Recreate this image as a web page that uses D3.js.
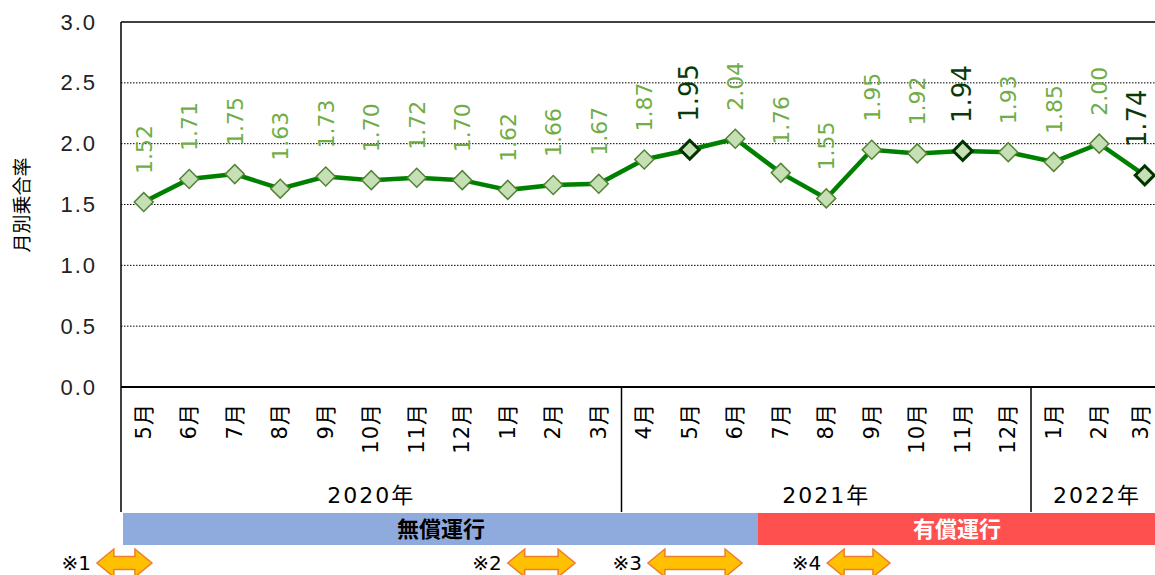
<!DOCTYPE html>
<html>
<head>
<meta charset="utf-8">
<script src="https://cdn.jsdelivr.net/npm/d3@7"></script>
<style>
  body { margin: 0; background: #fff; }
  svg { display: block; font-family: "DejaVu Sans", "Noto Sans CJK JP", sans-serif; }
</style>
</head>
<body>
<div id="chart"></div>
<script>
// 月ラベル・年・値
const months = ["5月","6月","7月","8月","9月","10月","11月","12月","1月","2月","3月",
                "4月","5月","6月","7月","8月","9月","10月","11月","12月",
                "1月","2月","3月"];
const rates = [1.52,1.71,1.75,1.63,1.73,1.70,1.72,1.70,1.62,1.66,1.67,
               1.87,1.95,2.04,1.76,1.55,1.95,1.92,1.94,1.93,
               1.85,2.00,1.74];
const highlight = [12, 18, 22];
const years = [{label:"2020年", from:0, to:11}, {label:"2021年", from:11, to:20}, {label:"2022年", from:20, to:23}];
const yTicks = [0, 0.5, 1.0, 1.5, 2.0, 2.5, 3.0];
const phases = [{label:"無償運行", from:0, to:14, fill:"#8faadc", color:"#000"},
                {label:"有償運行", from:14, to:23, fill:"#ff5050", color:"#fff"}];
// 矢印の範囲（月の位置で）
const notes = [{label:"※1", x0:-1.03, x1:0.18}, {label:"※2", x0:8.0, x1:9.48}, {label:"※3", x0:11.08, x1:13.15}, {label:"※4", x0:15.02, x1:16.4}];

const W = 1155, H = 575;
const m = {left: 121, top: 22};
const bandW = 45.5;

const svg = d3.select("#chart").append("svg")
    .attr("width", W).attr("height", H);

const x = d3.scaleBand()
    .domain(d3.range(months.length))
    .range([m.left, m.left + bandW * months.length])
    .padding(0);
const xc = i => x(i) + x.bandwidth() / 2;
// 連続位置（月の中心＝整数）
const xi = d3.scaleLinear().domain([-0.5, months.length - 0.5]).range([m.left, m.left + bandW * months.length]);
const xEdge = i => xi(i - 0.5);

const y = d3.scaleLinear().domain([0, 3]).range([387, m.top]);

// グリッド
svg.append("g").selectAll("line")
    .data(yTicks.filter(d => d > 0 && d < 3))
    .enter().append("line")
    .attr("x1", m.left).attr("x2", W)
    .attr("y1", d => y(d)).attr("y2", d => y(d))
    .style("stroke", "#000").style("stroke-width", 1)
    .style("stroke-dasharray", "1.5,1.5");

svg.append("line")
    .attr("x1", m.left).attr("x2", W)
    .attr("y1", y(3)).attr("y2", y(3))
    .style("stroke", "#000").style("stroke-width", 1.5);

// Y軸
const yAxis = svg.append("g")
    .attr("transform", `translate(${m.left},0)`)
    .call(d3.axisLeft(y).tickValues(yTicks).tickSize(0).tickPadding(24).tickFormat(d3.format(".1f")));
yAxis.select(".domain").remove();
yAxis.selectAll("text")
    .style("font-size", "22px").style("letter-spacing", "2px").style("fill", "#222");

svg.append("line")
    .attr("x1", m.left).attr("x2", m.left)
    .attr("y1", y(3)).attr("y2", 512)
    .style("stroke", "#000").style("stroke-width", 1.5);

svg.append("line")
    .attr("x1", m.left).attr("x2", W)
    .attr("y1", y(0)).attr("y2", y(0))
    .style("stroke", "#000").style("stroke-width", 2);

svg.append("text")
    .attr("transform", `translate(29,${205}) rotate(-90)`)
    .attr("text-anchor", "middle")
    .style("font-size", "19px")
    .style("font-family", "'Noto Sans CJK JP', sans-serif")
    .text("月別乗合率");

// 月ラベル
svg.append("g").selectAll("text")
    .data(months)
    .enter().append("text")
    .attr("transform", (d, i) => `translate(${Math.min(xc(i) + 7, 1148)},403) rotate(-90)`)
    .attr("text-anchor", "end")
    .style("font-size", "21px")
    .style("letter-spacing", "1px")
    .text(d => d);

// 年区切り
svg.append("g").selectAll("line")
    .data(years.slice(1))
    .enter().append("line")
    .attr("x1", d => xEdge(d.from)).attr("x2", d => xEdge(d.from))
    .attr("y1", y(0)).attr("y2", 512)
    .style("stroke", "#000").style("stroke-width", 1.5);

svg.append("g").selectAll("text")
    .data(years)
    .enter().append("text")
    .attr("x", d => Math.min((xEdge(d.from) + xEdge(d.to)) / 2, 1097))
    .attr("y", 503)
    .attr("text-anchor", "middle")
    .style("font-size", "22px")
    .style("letter-spacing", "2px")
    .text(d => d.label);

// 運行区分
const ph = svg.append("g").selectAll("g").data(phases).enter().append("g");
const phX0 = d => d.from === 0 ? 123 : xEdge(d.from);
const phX1 = d => d.to === months.length ? W : xEdge(d.to);
ph.append("rect")
    .attr("x", phX0)
    .attr("y", 513)
    .attr("width", d => phX1(d) - phX0(d))
    .attr("height", 32)
    .style("fill", d => d.fill);
ph.append("text")
    .attr("x", (d, i) => i === 0 ? 441 : 957)
    .attr("y", 537)
    .attr("text-anchor", "middle")
    .style("font-size", "22px")
    .style("font-family", "'Noto Sans CJK JP', sans-serif")
    .attr("font-weight", "bold")
    .style("fill", d => d.color)
    .text(d => d.label);

// 注記の矢印
function arrowPath(x0, x1, cy) {
    const hl = 17, hh = 14, sh = 6.5;
    return `M${x0},${cy} L${x0 + hl},${cy - hh} L${x0 + hl},${cy - sh} L${x1 - hl},${cy - sh} L${x1 - hl},${cy - hh} L${x1},${cy} ` +
           `L${x1 - hl},${cy + hh} L${x1 - hl},${cy + sh} L${x0 + hl},${cy + sh} L${x0 + hl},${cy + hh} Z`;
}
const nt = svg.append("g").selectAll("g").data(notes).enter().append("g");
nt.append("path")
    .attr("d", d => arrowPath(xi(d.x0), xi(d.x1), 563))
    .style("fill", "#ffc000").style("stroke", "#ed7d31").style("stroke-width", 1.5);
nt.append("text")
    .attr("x", d => xi(d.x0) - 6)
    .attr("y", 570)
    .attr("text-anchor", "end")
    .style("font-size", "20px")
    .text(d => d.label);

// 折れ線
svg.append("path")
    .datum(rates)
    .attr("d", d3.line().x((d, i) => xc(i)).y(d => y(d)))
    .style("fill", "none").style("stroke", "#008000").style("stroke-width", 4.5);

svg.append("g").selectAll("path")
    .data(rates)
    .enter().append("path")
    .attr("d", d3.symbol().type(d3.symbolSquare).size(180))
    .attr("transform", (d, i) => `translate(${xc(i)},${y(d)}) rotate(45)`)
    .style("fill", "#c5e0b4")
    .style("stroke", (d, i) => highlight.includes(i) ? "#003300" : "#548235")
    .style("stroke-width", (d, i) => highlight.includes(i) ? 3 : 1.5);

// データラベル
svg.append("g").selectAll("text")
    .data(rates)
    .enter().append("text")
    .attr("transform", (d, i) => `translate(${Math.min(xc(i) + 8, 1146)},${y(d) - 28}) rotate(-90)`)
    .attr("text-anchor", "start")
    .style("font-size", (d, i) => highlight.includes(i) ? "26px" : "22px")
    .style("fill", (d, i) => highlight.includes(i) ? "#0a3a0a" : "#70ad47")
    .text(d => d.toFixed(2));
</script>
</body>
</html>
